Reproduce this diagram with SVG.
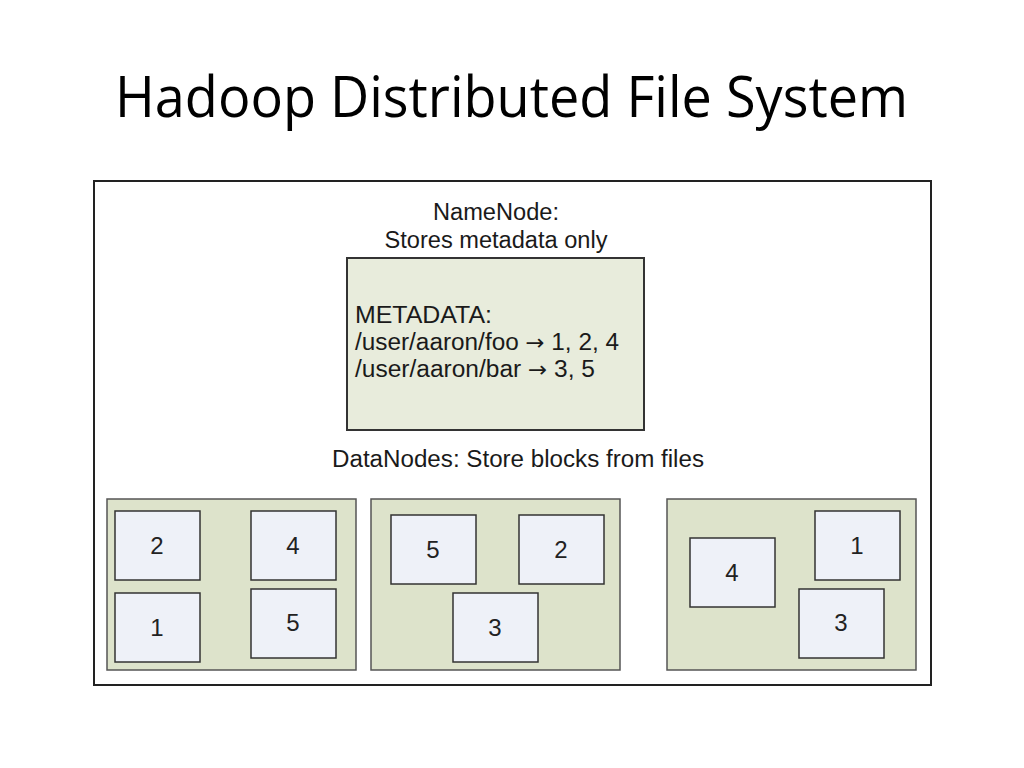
<svg xmlns="http://www.w3.org/2000/svg" width="1024" height="768" viewBox="0 0 1024 768">
  <style>
    .title { font-family: "Open Sans", "Liberation Sans", sans-serif; font-size: 56px; fill: #000; }
    .lbl { font-family: "Liberation Sans", Arial, sans-serif; font-size: 23.5px; fill: #1a1a1a; }
    .arr { font-family: "DejaVu Sans", sans-serif; font-size: 22px; }
    .dn { fill: #dde3cb; stroke: #555; stroke-width: 1.5; }
    .blk { fill: #eef1f8; stroke: #333; stroke-width: 1.5; }
    .num { font-family: "Liberation Sans", Arial, sans-serif; font-size: 24px; fill: #222; text-anchor: middle; }
  </style>
  <rect width="1024" height="768" fill="#fff"/>
  <text class="title" x="115" y="117" textLength="793" lengthAdjust="spacingAndGlyphs">Hadoop Distributed File System</text>

  <rect id="frame" x="94" y="181" width="837" height="504" fill="#fff" stroke="#222" stroke-width="2"/>

  <g id="namenode">
    <text class="lbl" x="496" y="220" text-anchor="middle" textLength="126" lengthAdjust="spacingAndGlyphs">NameNode:</text>
    <text class="lbl" x="496" y="248" text-anchor="middle" textLength="223" lengthAdjust="spacingAndGlyphs">Stores metadata only</text>
    <rect x="347" y="258" width="297" height="172" fill="#e8ecdc" stroke="#333" stroke-width="2"/>
    <text class="lbl" x="355" y="323" font-size="24" textLength="137" lengthAdjust="spacingAndGlyphs">METADATA:</text>
    <text class="lbl" x="355" y="350" font-size="24" textLength="264" lengthAdjust="spacingAndGlyphs">/user/aaron/foo <tspan class="arr">→</tspan> 1, 2, 4</text>
    <text class="lbl" x="355" y="377" font-size="24" textLength="240" lengthAdjust="spacingAndGlyphs">/user/aaron/bar <tspan class="arr">→</tspan> 3, 5</text>
  </g>

  <text id="datanodes-label" class="lbl" x="332" y="467" font-size="24" textLength="372" lengthAdjust="spacingAndGlyphs">DataNodes: Store blocks from files</text>

  <g id="datanode1">
    <rect class="dn" x="107" y="499" width="249" height="171"/>
    <g id="dn1-b2"><rect class="blk" x="115" y="511" width="85" height="69"/><text class="num" x="157" y="554">2</text></g>
    <g id="dn1-b4"><rect class="blk" x="251" y="511" width="85" height="69"/><text class="num" x="293" y="554">4</text></g>
    <g id="dn1-b1"><rect class="blk" x="115" y="593" width="85" height="69"/><text class="num" x="157" y="636">1</text></g>
    <g id="dn1-b5"><rect class="blk" x="251" y="589" width="85" height="69"/><text class="num" x="293" y="631">5</text></g>
  </g>

  <g id="datanode2">
    <rect class="dn" x="371" y="499" width="249" height="171"/>
    <g id="dn2-b5"><rect class="blk" x="391" y="515" width="85" height="69"/><text class="num" x="433" y="558">5</text></g>
    <g id="dn2-b2"><rect class="blk" x="519" y="515" width="85" height="69"/><text class="num" x="561" y="558">2</text></g>
    <g id="dn2-b3"><rect class="blk" x="453" y="593" width="85" height="69"/><text class="num" x="495" y="636">3</text></g>
  </g>

  <g id="datanode3">
    <rect class="dn" x="667" y="499" width="249" height="171"/>
    <g id="dn3-b4"><rect class="blk" x="690" y="538" width="85" height="69"/><text class="num" x="732" y="581">4</text></g>
    <g id="dn3-b1"><rect class="blk" x="815" y="511" width="85" height="69"/><text class="num" x="857" y="554">1</text></g>
    <g id="dn3-b3"><rect class="blk" x="799" y="589" width="85" height="69"/><text class="num" x="841" y="631">3</text></g>
  </g>

  <g id="connectors"/>
</svg>
